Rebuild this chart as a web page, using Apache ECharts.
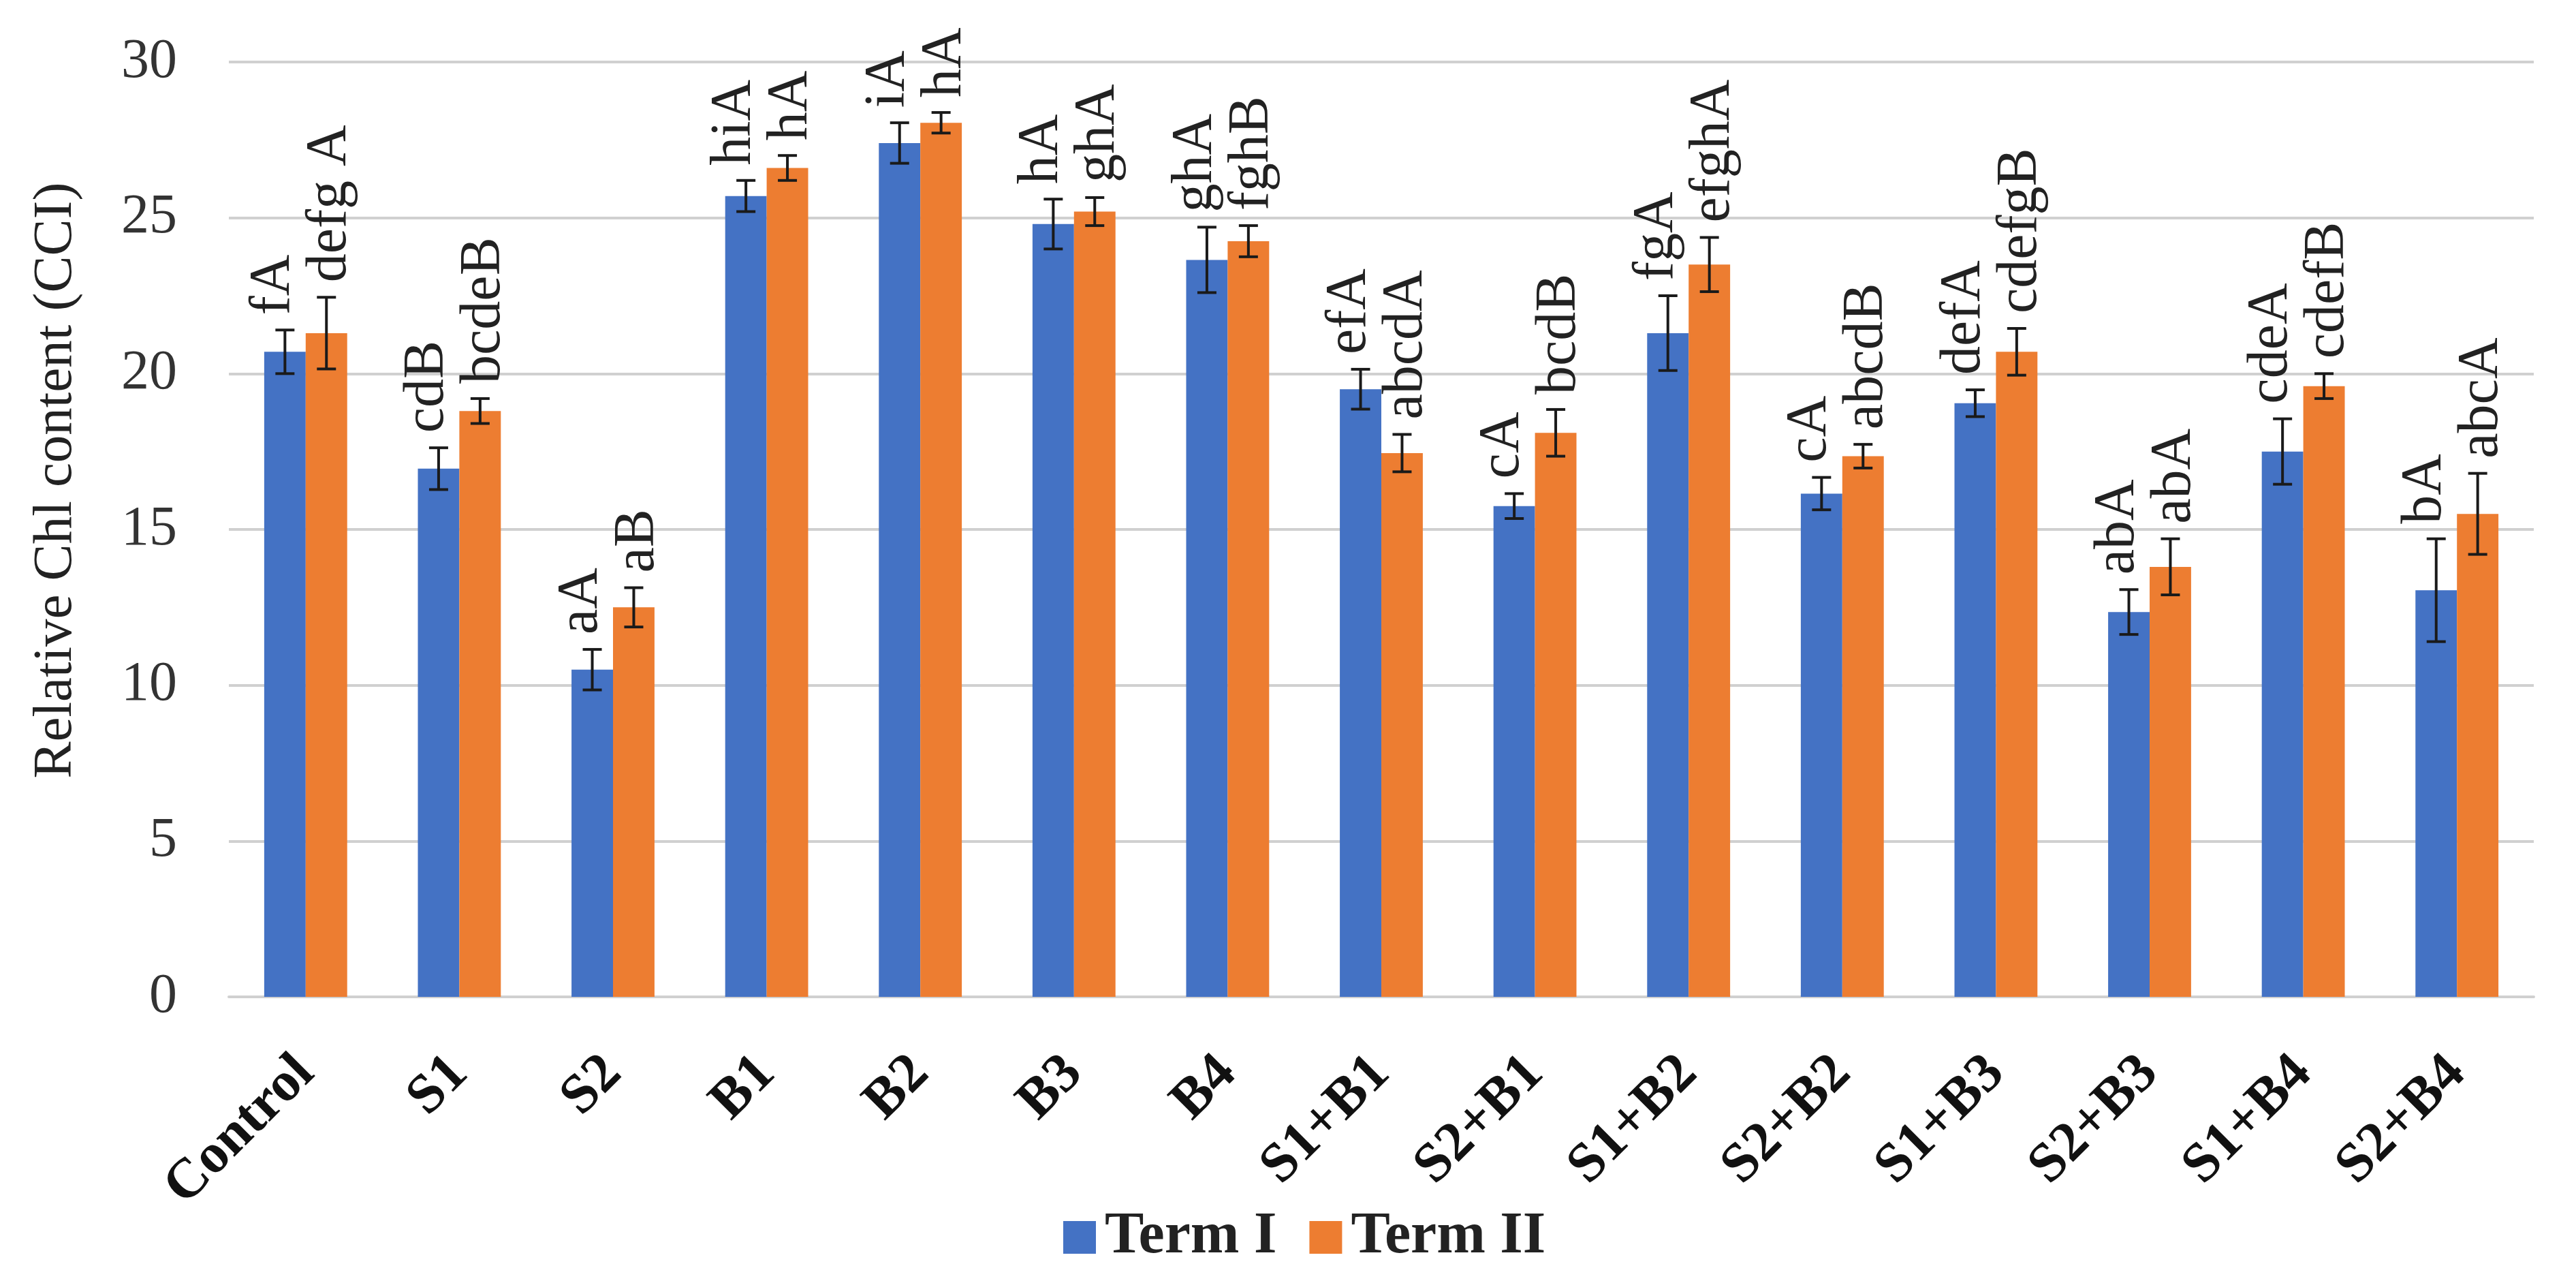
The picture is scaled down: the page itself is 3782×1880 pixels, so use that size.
<!DOCTYPE html>
<html>
<head>
<meta charset="utf-8">
<script src="https://cdn.jsdelivr.net/npm/echarts@6/dist/echarts.min.js"></script>
<style>
html,body{margin:0;padding:0;background:#fff;}
#chart{width:3782px;height:1880px;}
</style>
</head>
<body>
<div id="chart"></div>
<script>
var categories = ['Control','S1','S2','B1','B2','B3','B4','S1+B1','S2+B1','S1+B2','S2+B2','S1+B3','S2+B3','S1+B4','S2+B4'];
var term1 = [20.7, 16.95, 10.5, 25.7, 27.4, 24.8, 23.65, 19.5, 15.75, 21.3, 16.15, 19.05, 12.35, 17.5, 13.05];
var term1Err = [0.7, 0.67, 0.65, 0.5, 0.65, 0.8, 1.05, 0.64, 0.4, 1.2, 0.52, 0.43, 0.72, 1.05, 1.65];
var term2 = [21.3, 18.8, 12.5, 26.6, 28.05, 25.2, 24.25, 17.45, 18.1, 23.5, 17.35, 20.7, 13.8, 19.6, 15.5];
var term2Err = [1.15, 0.4, 0.63, 0.4, 0.33, 0.45, 0.5, 0.6, 0.75, 0.87, 0.38, 0.75, 0.9, 0.4, 1.3];
var labels1 = ['fA','cdB','aA','hiA','iA','hA','ghA','efA','cA','fgA','cA','defA','abA','cdeA','bA'];
var labels2 = ['defg A','bcdeB','aB','hA','hA','ghA','fghB','abcdA','bcdB','efghA','abcdB','cdefgB','abA','cdefB','abcA'];
var seriesNames = ['Term I','Term II'];
var yTitle = 'Relative Chl content (CCI)';
var yTicks = [0, 5, 10, 15, 20, 25, 30];

var BAR_FRAC = 0.27;
var SERIF = '"Liberation Serif", "Times New Roman", serif';

function errData(vals, errs) {
  return vals.map(function (v, i) { return [i, v, errs[i]]; });
}

function makeErrRender(side, labels, labelShift) {
  return function (params, api) {
    var xi = api.value(0), v = api.value(1), e = api.value(2);
    var bandW = api.size([1, 0])[0];
    var bw = bandW * BAR_FRAC;
    var cx = api.coord([xi, v])[0] + side * bw / 2;
    var yTop = api.coord([xi, v + e])[1];
    var yBot = api.coord([xi, v - e])[1];
    var cap = 14;
    var ls = { stroke: '#1a1a1a', lineWidth: 4 };
    return {
      type: 'group',
      children: [
        { type: 'line', shape: { x1: cx, y1: yTop, x2: cx, y2: yBot }, style: ls },
        { type: 'line', shape: { x1: cx - cap, y1: yTop, x2: cx + cap, y2: yTop }, style: ls },
        { type: 'line', shape: { x1: cx - cap, y1: yBot, x2: cx + cap, y2: yBot }, style: ls },
        { type: 'text', x: cx + labelShift, y: yTop - 22, rotation: Math.PI / 2,
          style: { text: labels[params.dataIndex], align: 'left', verticalAlign: 'middle',
                   font: '84px ' + SERIF, fill: '#222' } }
      ]
    };
  };
}

var chart = echarts.init(document.getElementById('chart'), null, { renderer: 'canvas' });
chart.setOption({
  backgroundColor: '#ffffff',
  animation: false,
  grid: { left: 336, right: 62, top: 91, bottom: 417, containLabel: false },
  graphic: [
    { type: 'text', x: 83, y: 705, rotation: Math.PI / 2,
      style: { text: yTitle, align: 'center', verticalAlign: 'middle', font: '81px ' + SERIF, fill: '#222' } }
  ],
  legend: {
    data: seriesNames,
    left: 1556, top: 1768,
    icon: 'rect', itemWidth: 48, itemHeight: 48, itemGap: 48,
    textStyle: { fontFamily: SERIF, fontWeight: 'bold', fontSize: 86, color: '#222', padding: [0, 0, 0, 8] }
  },
  xAxis: {
    type: 'category',
    data: categories,
    axisLine: { lineStyle: { color: '#d0d0d0', width: 4 } },
    axisTick: { show: false },
    axisLabel: { rotate: 45, margin: 100, interval: 0, fontFamily: SERIF, fontWeight: 'bold', fontSize: 82, color: '#111' }
  },
  yAxis: {
    type: 'value',
    min: 0, max: 30, interval: 5,
    axisLine: { show: false },
    axisTick: { show: false },
    axisLabel: { margin: 76, fontFamily: SERIF, fontSize: 82, color: '#333',
      formatter: function (v) { return yTicks.indexOf(v) >= 0 ? String(v) : ''; } },
    splitLine: { lineStyle: { color: '#d0d0d0', width: 4 } }
  },
  series: [
    { name: seriesNames[0], type: 'bar', data: term1, barWidth: '27%', barGap: '0%', itemStyle: { color: '#4472C4' } },
    { name: seriesNames[1], type: 'bar', data: term2, barWidth: '27%', barGap: '0%', itemStyle: { color: '#ED7D31' } },
    { name: 'errI', type: 'custom', data: errData(term1, term1Err), encode: { x: 0, y: 1 }, z: 10,
      renderItem: makeErrRender(-1, labels1, -16) },
    { name: 'errII', type: 'custom', data: errData(term2, term2Err), encode: { x: 0, y: 1 }, z: 10,
      renderItem: makeErrRender(1, labels2, 6) }
  ]
});
</script>
</body>
</html>
